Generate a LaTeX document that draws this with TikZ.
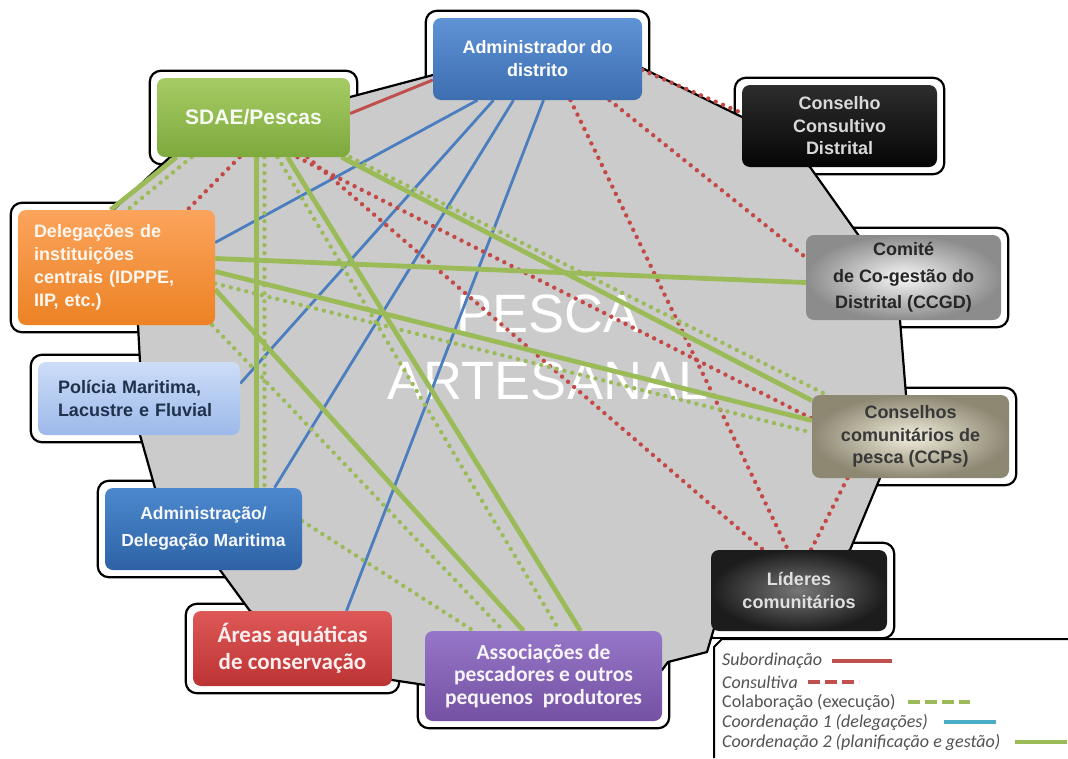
\documentclass[tikz,border=0pt]{standalone}
\usepackage{fontspec}
\setmainfont{Liberation Sans}
\newfontfamily\calib{Carlito}
\usetikzlibrary{calc}
\definecolor{cRED}{HTML}{C0504D}
\definecolor{cDOT}{HTML}{C44846}
\definecolor{cGREEN}{HTML}{9BBB59}
\definecolor{cBLUE}{HTML}{4A7EBE}
\definecolor{cTEAL}{HTML}{4BACC6}
\definecolor{cFIELD}{HTML}{CBCBCB}
\definecolor{cADMa}{HTML}{5F93D6}
\definecolor{cADMb}{HTML}{3C6EB0}
\definecolor{cSDAEa}{HTML}{A5CC64}
\definecolor{cSDAEb}{HTML}{7EA93D}
\definecolor{cCCDa}{HTML}{2E2E2E}
\definecolor{cCCDb}{HTML}{050505}
\definecolor{cDELa}{HTML}{FBA45C}
\definecolor{cDELb}{HTML}{EC8224}
\definecolor{cCCGa}{HTML}{F6F6F6}
\definecolor{cCCGb}{HTML}{8C8C8C}
\definecolor{cPOLa}{HTML}{CCDDF7}
\definecolor{cPOLb}{HTML}{9DB9EA}
\definecolor{cCCPa}{HTML}{F2EEDC}
\definecolor{cCCPb}{HTML}{8D8872}
\definecolor{cMARa}{HTML}{4C88CE}
\definecolor{cMARb}{HTML}{2E62A5}
\definecolor{cLIDa}{HTML}{777777}
\definecolor{cLIDb}{HTML}{1C1C1C}
\definecolor{cAREa}{HTML}{DE5858}
\definecolor{cAREb}{HTML}{BC3333}
\definecolor{cASSa}{HTML}{9676C8}
\definecolor{cASSb}{HTML}{7451A2}
\pgfdeclarelayer{halo}
\pgfdeclarelayer{field}
\pgfdeclarelayer{links}
\pgfsetlayers{halo,field,links,main}
\tikzset{
  orgbox/.style 2 args={
    rounded corners=8pt,
    inner sep=0pt,
    align=center,
    top color=#1, bottom color=#2,
    font=\bfseries\fontsize{18}{23}\selectfont
  },
  orgglow/.style 2 args={
    orgbox={#1}{#2},
    shading=radial, inner color=#1, outer color=#2
  },
  halo/.style={
    draw=black, fill=white,
    line width=2.2pt,
    rounded corners=11pt
  },
  subord/.style={draw=cRED, line width=3pt},
  consult/.style={
    draw=cDOT, line width=4.4pt,
    line cap=round, dash pattern=on 0pt off 8pt
  },
  colab/.style={
    draw=cGREEN, line width=4.4pt,
    line cap=round, dash pattern=on 0pt off 8pt
  },
  coordA/.style={draw=cBLUE, line width=2.8pt},
  coordB/.style={draw=cGREEN, line width=4.8pt},
  legtext/.style={
    anchor=west, inner sep=0pt,
    text=black!68,
    font=\calib\fontsize{18}{18}\selectfont
  },
  keyline/.style={line width=4.5pt}
}

\begin{document}
\begin{tikzpicture}[x=1pt, y=-1pt]
  \useasboundingbox (0,0) rectangle (1068,758);

  \node[orgbox={cADMa}{cADMb}, text=white, minimum width=209pt, minimum height=82pt] (adm) at (537.5,59) {Administrador do\\distrito};
  \node[orgbox={cSDAEa}{cSDAEb}, text=white!92!cSDAEa, minimum width=193pt, minimum height=79pt, font=\bfseries\fontsize{21}{25}\selectfont] (sdae) at (253.5,117.5) {SDAE/Pescas};
  \node[orgbox={cCCDa}{cCCDb}, text=black!15, minimum width=195pt, minimum height=82pt, font=\bfseries\fontsize{18}{22.5}\selectfont] (ccd) at (839.5,126) {Conselho\\Consultivo\\Distrital};
  \node[orgbox={cDELa}{cDELb}, text=white!90!cDELa, minimum width=197pt, minimum height=115pt, text width=165pt, align=left] (deleg) at (116.5,267.5) {Delegações de\\instituições\\centrais (IDPPE,\\IIP, etc.)};
  \node[orgglow={cCCGa}{cCCGb}, text=black!85, minimum width=195pt, minimum height=85pt, font=\bfseries\fontsize{18}{26.5}\selectfont] (ccgd) at (903.5,277.5) {Comité\\de Co-gestão do\\Distrital (CCGD)};
  \node[orgbox={cPOLa}{cPOLb}, text=cBLUE!40!black, minimum width=202pt, minimum height=73pt, text width=162pt, align=left] (pol) at (139,398.5) {Polícia Maritima,\\Lacustre e Fluvial};
  \node[orgglow={cCCPa}{cCCPb}, text=black!78, minimum width=197pt, minimum height=83pt, font=\bfseries\fontsize{18}{22.5}\selectfont] (ccp) at (910.5,436.5) {Conselhos\\comunitários de\\pesca (CCPs)};
  \node[orgbox={cMARa}{cMARb}, text=white!95!cMARa, minimum width=197pt, minimum height=82pt, font=\bfseries\fontsize{17.5}{27}\selectfont] (admar) at (203.5,529) {Administração/\\Delegação Maritima};
  \node[orgglow={cLIDa}{cLIDb}, text=black!12, minimum width=176pt, minimum height=81pt] (lid) at (799,590.5) {Líderes\\comunitários};
  \node[orgbox={cAREa}{cAREb}, text=white!90!cAREa, minimum width=199pt, minimum height=75pt, font=\calib\bfseries\fontsize{23}{27}\selectfont] (areas) at (292.5,648.5) {Áreas aquáticas\\de conservação};
  \node[orgbox={cASSa}{cASSb}, text=white!92!cASSa, minimum width=237pt, minimum height=90pt, font=\calib\bfseries\fontsize{21.5}{22.5}\selectfont] (assoc) at (543.5,676) {Associações de\\pescadores e outros\\pequenos\ \ produtores};

  \begin{pgfonlayer}{halo}
    \foreach \b in {adm,sdae,ccd,deleg,ccgd,pol,ccp,admar,lid,areas,assoc}
      \draw[halo] ([shift={(-7pt,7pt)}]\b.north west) rectangle ([shift={(7pt,-7pt)}]\b.south east);
  \end{pgfonlayer}

  \begin{pgfonlayer}{field}
    \draw[fill=cFIELD, line width=2.2pt] (350,97) -- (433,75) -- (540,30) -- (642,68) -- (742,117) -- (810,167) -- (859,236) -- (900,320) -- (906,395) -- (880,478) -- (850,550) -- (715,625) -- (707,652) -- (668,662) -- (662,670) -- (425,685) -- (392,680) -- (250,611) -- (220,570) -- (155,488) -- (140,435) -- (140,362) -- (138,325) -- (113,210) -- (170,157) -- cycle;
    \node[text=white, align=center, font=\fontsize{54}{67}\selectfont] (pesca) at (548,347) {PESCA\\ARTESANAL};
  \end{pgfonlayer}

  \begin{pgfonlayer}{links}
    \draw[subord] ([yshift=-21pt]adm.west) -- ([yshift=4pt]sdae.east);
    \draw[consult] ([yshift=-11pt]adm.east) -- ([yshift=13pt]ccd.west);
    \draw[consult] ([xshift=72pt]adm.south) -- ([yshift=20pt]ccgd.west);
    \draw[consult] ([xshift=33pt]adm.south) -- ([xshift=-11pt]lid.north);
    \draw[coordA] ([xshift=-60pt]adm.south) -- ([yshift=25pt]deleg.east);
    \draw[coordA] ([xshift=-44pt]adm.south) -- ([yshift=15pt]pol.east);
    \draw[coordA] ([xshift=-24pt]adm.south) -- ([xshift=71pt]admar.north);
    \draw[coordA] ([xshift=6pt]adm.south) -- ([xshift=54pt]areas.north);

    \draw[coordB] ([xshift=-77pt]sdae.south) -- ([xshift=-6pt]deleg.north);
    \draw[colab] ([xshift=-62pt]sdae.south) -- ([xshift=11pt]deleg.north);
    \draw[consult] ([xshift=-14pt]sdae.south) -- ([xshift=71pt]deleg.north);
    \draw[coordB] ([xshift=3pt]sdae.south) -- ([xshift=53pt]admar.north);
    \draw[colab] ([xshift=11pt]sdae.south) -- ([xshift=61pt]admar.north);
    \draw[colab] ([xshift=24pt]sdae.south) -- ([xshift=16pt]assoc.north);
    \draw[coordB] ([xshift=34pt]sdae.south) -- ([xshift=37pt]assoc.north);
    \draw[consult] ([xshift=44pt]sdae.south) -- ([yshift=18pt]ccp.west);
    \draw[consult] ([xshift=54pt]sdae.south) -- ([xshift=-36pt]lid.north);
    \draw[coordB] ([xshift=88pt]sdae.south) -- ([yshift=36pt]ccp.west);
    \draw[colab] (sdae.south east) -- ([xshift=15pt]ccp.north west);

    \draw[coordB] ([yshift=9pt]deleg.east) -- ([yshift=-5pt]ccgd.west);
    \draw[coordB] ([yshift=-4pt]deleg.east) -- ([yshift=16pt]ccp.west);
    \draw[colab] ([yshift=-16pt]deleg.east) -- ([yshift=4pt]ccp.west);
    \draw[coordB] ([yshift=-22pt]deleg.east) -- ([xshift=-20pt]assoc.north);
    \draw[colab] ([xshift=-3pt]deleg.south east) -- ([xshift=-40pt]assoc.north);

    \draw[colab] ([yshift=8pt]admar.east) -- ([xshift=-70pt]assoc.north);
    \draw[consult] ([xshift=-63pt]ccp.south) -- ([xshift=12pt]lid.north);
  \end{pgfonlayer}

  \fill[white] (714,639) rectangle (1068,758);
  \draw[line width=2pt] (1068,639) -- (722,639) -- (714,647) -- (714,758);
  \node[legtext] (lsub) at (722,661) {\itshape Subordinação};
  \node[legtext] (lcon) at (722,682) {\itshape Consultiva};
  \node[legtext] (lcol) at (722,702) {Colaboração (execução)};
  \node[legtext] (lco1) at (722,722) {\itshape Coordenação 1 (delegações)};
  \node[legtext] (lco2) at (722,742) {\itshape Coordenação 2 (planificação e gestão)};
  \draw[keyline, cRED] ([xshift=10pt]lsub.east) -- ++(60,0);
  \draw[keyline, cRED, dash pattern=on 12pt off 5pt] ([xshift=10pt]lcon.east) -- ++(51,0);
  \draw[keyline, cGREEN, dash pattern=on 12pt off 5pt] ([xshift=12pt]lcol.east) -- ++(62,0);
  \draw[keyline, cTEAL] ([xshift=16pt]lco1.east) -- ++(52,0);
  \draw[keyline, cGREEN] ([xshift=14pt]lco2.east) -- ++(52,0);
\end{tikzpicture}
\end{document}
